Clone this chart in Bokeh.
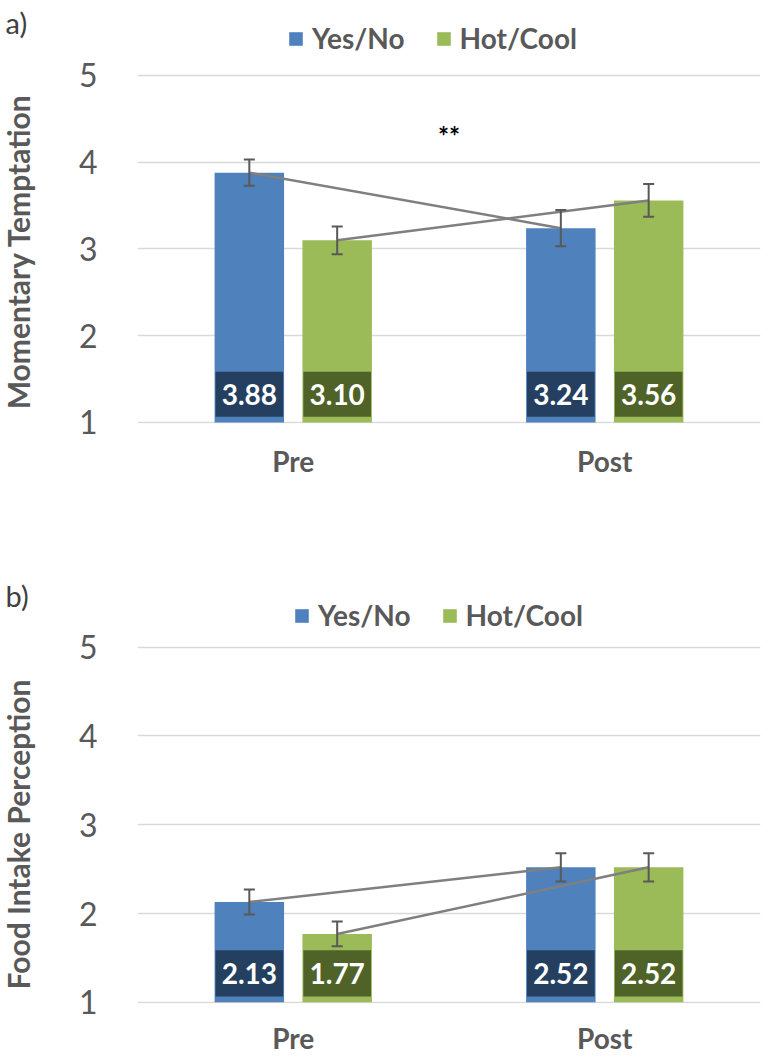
import math
from bokeh.plotting import figure
from bokeh.models import (ColumnDataSource, FactorRange, Range1d, FixedTicker,
                          Whisker, TeeHead, Legend, LegendItem, Label)
from bokeh.transform import dodge
from bokeh.layouts import column, row
from bokeh.embed import file_html
from bokeh.resources import INLINE
from bokeh.core.properties import value

# ---------------- data ----------------
categories = ["Pre", "Post"]
series_names = ["Yes/No", "Hot/Cool"]

temptation_yesno = [3.88, 3.24]
temptation_hotcool = [3.10, 3.56]
temptation_yesno_err = [0.15, 0.21]
temptation_hotcool_err = [0.16, 0.19]

food_yesno = [2.13, 2.52]
food_hotcool = [1.77, 2.52]
food_yesno_err = [0.14, 0.16]
food_hotcool_err = [0.14, 0.16]

y_ticks = [1, 2, 3, 4, 5]
panel_tags = ["a)", "b)"]
y_titles = ["Momentary Temptation", "Food Intake Perception"]

# ---------------- style ----------------
FONT = "Lato"
GRAY_TXT = "#595959"
BAR_COLORS = ["#4F81BD", "#9BBB59"]
BOX_COLORS = ["#243F60", "#4F6228"]
OFFSETS = [-0.141, 0.141]
BAR_W = 0.223
TOTAL_H = 1057
GUTTER_W = 38


def make_panel(means, errs, frame_h, top_border, bottom_border, y_start, y_end,
               legend_loc, label_standoff, stars=None):
    p = figure(x_range=FactorRange(*categories), y_range=Range1d(y_start, y_end),
               frame_width=623, frame_height=frame_h, output_backend="svg",
               toolbar_location=None, min_border_left=99, min_border_right=8,
               min_border_top=top_border, min_border_bottom=bottom_border)
    p.outline_line_color = None
    p.background_fill_color = "white"
    p.border_fill_color = "white"

    bar_renderers = []
    for i, name in enumerate(series_names):
        m = means[i]
        e = errs[i]
        src = ColumnDataSource(dict(
            cat=categories,
            mean=m,
            upper=[a + b for a, b in zip(m, e)],
            lower=[a - b for a, b in zip(m, e)],
            label=["%.2f" % v for v in m],
        ))
        xd = dodge("cat", OFFSETS[i], range=p.x_range)
        r = p.vbar(x=xd, top="mean", bottom=1, width=BAR_W, source=src,
                   fill_color=BAR_COLORS[i], line_color=None)
        bar_renderers.append(r)
        p.vbar(x=xd, bottom=1.065, top=1.585, width=BAR_W - 0.006, source=src,
               fill_color=BOX_COLORS[i], line_color=None)
        p.text(x=xd, y=1.325, text="label", source=src, text_color="white",
               text_font=value(FONT), text_font_style="bold",
               text_font_size="28px", text_align="center",
               text_baseline="middle")
        p.line(x=xd, y="mean", source=src, line_color="#7F7F7F",
               line_width=2.5)
        w = Whisker(base=dodge("cat", OFFSETS[i], range=p.x_range),
                    upper="upper", lower="lower", source=src, level="annotation",
                    line_color="#595959", line_width=2,
                    upper_head=TeeHead(size=11, line_color="#595959", line_width=2),
                    lower_head=TeeHead(size=11, line_color="#595959", line_width=2))
        p.add_layout(w)

    legend = Legend(items=[LegendItem(label=n, renderers=[r])
                           for n, r in zip(series_names, bar_renderers)],
                    orientation="horizontal", location=legend_loc,
                    glyph_width=17, glyph_height=17, label_standoff=8,
                    spacing=30, padding=0, margin=0, border_line_color=None,
                    background_fill_alpha=0, label_text_font=FONT,
                    label_text_font_style="bold", label_text_font_size="28px",
                    label_text_color=GRAY_TXT)
    p.add_layout(legend)

    if stars is not None:
        p.add_layout(Label(x=1.0, y=stars, text="**", text_font=FONT,
                           text_font_style="bold", text_font_size="26px",
                           text_color="black", text_align="center",
                           text_baseline="middle"))

    # axes
    p.yaxis.ticker = FixedTicker(ticks=y_ticks)
    p.ygrid.ticker = FixedTicker(ticks=y_ticks)
    p.yaxis.axis_line_color = None
    p.yaxis.major_tick_line_color = None
    p.yaxis.minor_tick_line_color = None
    p.yaxis.major_label_text_font = FONT
    p.yaxis.major_label_text_font_size = "32px"
    p.yaxis.major_label_text_color = GRAY_TXT
    p.yaxis.major_label_standoff = 34

    p.xaxis.axis_line_color = None
    p.xaxis.major_tick_line_color = None
    p.xaxis.minor_tick_line_color = None
    p.xaxis.major_label_text_font = FONT
    p.xaxis.major_label_text_font_style = "bold"
    p.xaxis.major_label_text_font_size = "28px"
    p.xaxis.major_label_text_color = GRAY_TXT
    p.xaxis.major_label_standoff = label_standoff

    p.xgrid.grid_line_color = None
    p.ygrid.grid_line_color = "#D9D9D9"
    p.ygrid.grid_line_width = 1.5
    return p


pa = make_panel([temptation_yesno, temptation_hotcool],
                [temptation_yesno_err, temptation_hotcool_err],
                frame_h=415, top_border=8, bottom_border=137,
                y_start=0.988, y_end=5.772,
                legend_loc=(150, 368), label_standoff=14, stars=4.30)
pb = make_panel([food_yesno, food_hotcool],
                [food_yesno_err, food_hotcool_err],
                frame_h=435, top_border=8, bottom_border=54,
                y_start=0.986, y_end=5.887,
                legend_loc=(156, 371), label_standoff=11)

# left gutter with panel tags and the rotated y-axis titles
g = figure(width=GUTTER_W, height=TOTAL_H, x_range=Range1d(0, 1),
           y_range=Range1d(0, 1), x_axis_type=None, y_axis_type=None,
           output_backend="svg", toolbar_location=None, min_border=0)
g.outline_line_color = None
g.background_fill_color = "white"
g.border_fill_color = "white"
for txt, ypos in zip(panel_tags, [1035, 462]):
    g.add_layout(Label(x=5, y=ypos, x_units="screen", y_units="screen",
                       text=txt, text_font=FONT, text_font_size="29px",
                       text_color="#404040", text_baseline="middle",
                       text_align="left"))
for txt, ypos in zip(y_titles, [806, 223]):
    g.add_layout(Label(x=17, y=ypos, x_units="screen", y_units="screen",
                       text=txt, angle=math.pi / 2, text_font=FONT,
                       text_font_style="bold", text_font_size="30px",
                       text_color=GRAY_TXT, text_baseline="middle",
                       text_align="center"))

layout = row(g, column(pa, pb, spacing=0), spacing=0)
open("out.html", "w").write(file_html(layout, INLINE))
